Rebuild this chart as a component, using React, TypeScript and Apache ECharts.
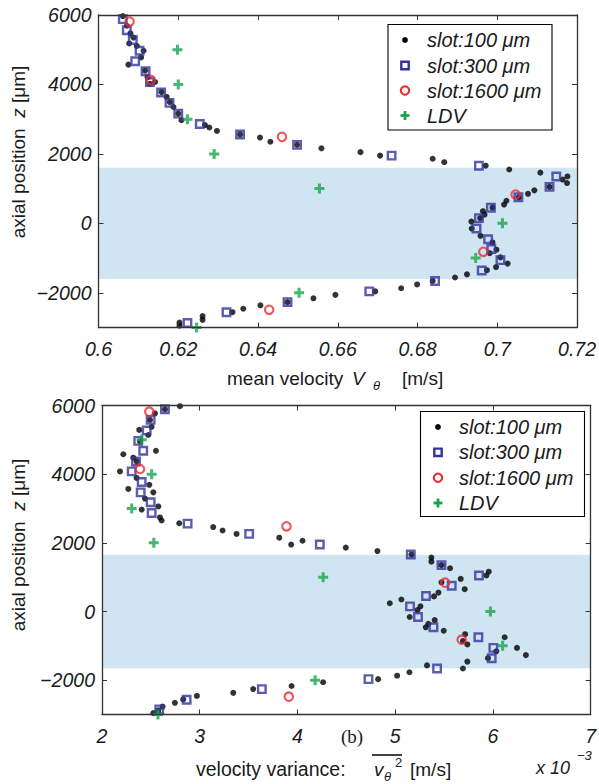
import React, { useEffect, useRef } from 'react';
import * as echarts from 'echarts';

// ---------- data ----------
const zTicks = [-2000, 0, 2000, 4000, 6000];
const meanTicks = [0.6, 0.62, 0.64, 0.66, 0.68, 0.7, 0.72];
const varTicks = [2, 3, 4, 5, 6, 7];
const legendNames = ['slot:100 μm', 'slot:300 μm', 'slot:1600 μm', 'LDV'];
const bandTop = [-1600, 1600];
const bandBottom = [-1650, 1650];

// top panel: mean velocity V_theta [m/s] vs z [μm]
const meanSlot100 = [
  [0.6061, 5970], [0.6071, 5690], [0.608, 5470], [0.6088, 5350], [0.6077, 5180], [0.6096, 5110],
  [0.6113, 4970], [0.6107, 4780], [0.6075, 4570], [0.6117, 4400], [0.6123, 4210], [0.6129, 4020],
  [0.6142, 4070], [0.6158, 3780], [0.6171, 3640], [0.6179, 3490], [0.6188, 3350], [0.62, 3160],
  [0.6208, 2970], [0.6267, 2830], [0.6278, 2760], [0.6297, 2660], [0.6355, 2560], [0.6405, 2470],
  [0.6431, 2350], [0.6498, 2260], [0.6559, 2160], [0.6657, 2050], [0.6706, 1950], [0.6838, 1860],
  [0.6867, 1760], [0.6971, 1660], [0.703, 1550], [0.7108, 1460], [0.7176, 1350], [0.7164, 1260],
  [0.7175, 1160], [0.7131, 1050], [0.7093, 950], [0.7077, 850], [0.7054, 750], [0.7023, 650],
  [0.7017, 540], [0.6988, 450], [0.6964, 350], [0.6968, 250], [0.6957, 150], [0.6935, 50],
  [0.6936, -150], [0.6958, -360], [0.6988, -550], [0.6998, -760], [0.6981, -860], [0.7008, -980],
  [0.7026, -1160], [0.6997, -1260], [0.6974, -1350], [0.6924, -1470], [0.6894, -1560], [0.6838, -1660],
  [0.6799, -1760], [0.6759, -1870], [0.6694, -1960], [0.6594, -2060], [0.6539, -2160], [0.6474, -2270],
  [0.6406, -2360], [0.6363, -2460], [0.6336, -2560], [0.6261, -2670], [0.6261, -2780], [0.6203, -2860],
  [0.6203, -2950],
];
const meanSlot300 = [
  [0.6061, 5880], [0.6071, 5560], [0.6086, 5280], [0.6103, 4970], [0.6092, 4670], [0.6118, 4380],
  [0.6129, 4070], [0.6157, 3770], [0.6178, 3470], [0.62, 3160], [0.6254, 2860], [0.6355, 2560],
  [0.6498, 2260], [0.6735, 1950], [0.6954, 1660], [0.7148, 1350], [0.7131, 1050], [0.7053, 750],
  [0.6984, 450], [0.6954, 150], [0.6948, -150], [0.6977, -460], [0.6985, -740], [0.7008, -1060],
  [0.6961, -1360], [0.6844, -1660], [0.6679, -1960], [0.6474, -2270], [0.6321, -2560], [0.6223, -2870],
];
const meanSlot1600 = [
  [0.6078, 5810], [0.6131, 4130], [0.646, 2490], [0.7046, 830], [0.6965, -820], [0.6428, -2490],
];
const meanLDV = [
  [0.6198, 5000], [0.62, 4000], [0.6223, 3000], [0.629, 2000], [0.6554, 1000], [0.7013, 0],
  [0.6946, -1000], [0.6503, -2000], [0.6246, -3000],
];

// bottom panel: velocity variance (x 10^-3) vs z [μm]
const varSlot100 = [
  [2.797, 5980], [2.644, 5890], [2.542, 5770], [2.491, 5580], [2.508, 5380], [2.381, 5290],
  [2.473, 5140], [2.389, 4950], [2.552, 4680], [2.218, 4580], [2.32, 4480], [2.354, 4370],
  [2.184, 4080], [2.354, 3890], [2.484, 3690], [2.269, 3570], [2.525, 3470], [2.44, 3290],
  [2.576, 3060], [2.406, 2970], [2.593, 2740], [2.61, 2650], [2.79, 2570], [3.138, 2460],
  [3.234, 2360], [3.377, 2260], [3.814, 2150], [4.052, 2060], [3.936, 1950], [4.495, 1860],
  [4.819, 1760], [5.167, 1660], [5.371, 1570], [5.371, 1450], [5.474, 1350], [5.562, 1260],
  [5.958, 1160], [5.934, 1050], [5.671, 950], [5.474, 850], [5.712, 650], [5.443, 550],
  [5.398, 440], [5.064, 350], [4.945, 240], [5.259, 150], [5.228, 40], [5.149, -160],
  [5.405, -250], [5.34, -360], [5.313, -460], [5.497, -560], [5.716, -660], [6.121, -750],
  [5.694, -860], [5.739, -960], [6.247, -1060], [6.035, -1160], [6.338, -1270], [5.95, -1360],
  [5.739, -1460], [5.326, -1570], [5.694, -1660], [5.146, -1770], [5.02, -1870], [4.826, -1970],
  [4.263, -2060], [3.94, -2170], [3.547, -2260], [3.343, -2370], [2.971, -2460], [2.831, -2560],
  [2.746, -2660], [2.62, -2770], [2.576, -2880], [2.525, -2960],
];
const varSlot300 = [
  [2.644, 5890], [2.498, 5580], [2.457, 5270], [2.371, 4970], [2.422, 4680], [2.348, 4370],
  [2.304, 4080], [2.406, 3770], [2.396, 3470], [2.498, 3180], [2.508, 2870], [2.876, 2560],
  [3.506, 2260], [4.229, 1950], [5.16, 1660], [5.474, 1350], [5.858, 1050], [5.579, 750],
  [5.316, 450], [5.152, 150], [5.234, -160], [5.392, -460], [5.852, -750], [6.005, -1060],
  [5.988, -1360], [5.429, -1660], [4.727, -1970], [3.636, -2260], [2.866, -2570], [2.586, -2850],
];
const varSlot1600 = [
  [2.484, 5820], [2.389, 4150], [3.888, 2480], [5.512, 840], [5.681, -820], [3.912, -2480],
];
const varLDV = [
  [2.406, 5000], [2.508, 4000], [2.304, 3000], [2.53, 2000], [4.263, 1000], [5.975, 0],
  [6.1, -1000], [4.181, -2000], [2.573, -3000],
];

// ---------- styling ----------
const SANS = "'Liberation Sans', Arial, Helvetica, sans-serif";
const SERIF = "'Liberation Serif', 'Times New Roman', serif";
const TXT = '#1a1a1a';
const AXIS = '#333333';
const BLUE = '#34359b';
const RED = '#ee2a2e';
const GREEN = '#18a54a';
const BAND = '#cfe5f2';
const PLUS = 'path://M3.5,0H6.5V3.5H10V6.5H6.5V10H3.5V6.5H0V3.5H3.5Z';
const TICK_FS = 19.5;

const minusFmt = (v: number) => String(v).replace('-', '\u2212');

function mainX(gridIndex: number, min: number, max: number, ticks: number[]) {
  return {
    type: 'value', gridIndex, min, max, position: 'bottom', z: 5,
    axisLine: { show: true, onZero: false, lineStyle: { color: AXIS, width: 1.3 } },
    axisTick: { show: true, inside: true, length: 5, customValues: ticks, lineStyle: { color: AXIS } },
    axisLabel: {
      show: true, customValues: ticks, margin: 11, color: TXT, fontSize: TICK_FS,
      fontStyle: 'italic', fontFamily: SANS, formatter: minusFmt,
    },
    splitLine: { show: false },
  };
}
function topX(gridIndex: number, min: number, max: number, ticks: number[]) {
  return {
    type: 'value', gridIndex, min, max, position: 'top', z: 5,
    axisLine: { show: true, onZero: false, lineStyle: { color: AXIS, width: 1.3 } },
    axisTick: { show: true, inside: true, length: 5, customValues: ticks, lineStyle: { color: AXIS } },
    axisLabel: { show: false },
    splitLine: { show: false },
  };
}
function leftY(gridIndex: number) {
  return {
    type: 'value', gridIndex, min: -3000, max: 6000, position: 'left', z: 5,
    axisLine: { show: true, onZero: false, lineStyle: { color: AXIS, width: 1.3 } },
    axisTick: { show: true, inside: true, length: 5, customValues: zTicks, lineStyle: { color: AXIS } },
    axisLabel: {
      show: true, customValues: zTicks, margin: 7, color: TXT, fontSize: TICK_FS,
      fontStyle: 'italic', fontFamily: SANS, formatter: minusFmt,
    },
    splitLine: { show: false },
  };
}
function rightY(gridIndex: number) {
  return {
    type: 'value', gridIndex, min: -3000, max: 6000, position: 'right', z: 5,
    axisLine: { show: true, onZero: false, lineStyle: { color: AXIS, width: 1.3 } },
    axisTick: { show: true, inside: true, length: 5, customValues: zTicks, lineStyle: { color: AXIS } },
    axisLabel: { show: false },
    splitLine: { show: false },
  };
}

function panelSeries(axisIdx: number, s100: number[][], s300: number[][], s1600: number[][], ldv: number[][], band: number[]) {
  return [
    {
      name: legendNames[0], type: 'scatter', xAxisIndex: axisIdx, yAxisIndex: axisIdx, data: s100,
      symbol: 'circle', symbolSize: 6, itemStyle: { color: '#000' }, z: 2, silent: true,
      markArea: {
        silent: true, z: 1, itemStyle: { color: BAND },
        data: [[{ yAxis: band[0] }, { yAxis: band[1] }]],
      },
    },
    {
      name: legendNames[1], type: 'scatter', xAxisIndex: axisIdx, yAxisIndex: axisIdx, data: s300,
      symbol: 'rect', symbolSize: 7.5, z: 3, silent: true,
      itemStyle: { color: 'rgba(0,0,0,0)', borderColor: BLUE, borderWidth: 2.4 },
    },
    {
      name: legendNames[2], type: 'scatter', xAxisIndex: axisIdx, yAxisIndex: axisIdx, data: s1600,
      symbol: 'circle', symbolSize: 8.5, z: 4, silent: true,
      itemStyle: { color: 'rgba(0,0,0,0)', borderColor: RED, borderWidth: 2.1 },
    },
    {
      name: legendNames[3], type: 'scatter', xAxisIndex: axisIdx, yAxisIndex: axisIdx, data: ldv,
      symbol: PLUS, symbolSize: 10, z: 4, silent: true, itemStyle: { color: GREEN },
    },
  ];
}

function legendGraphic(bx: number, by: number, bw: number, bh: number, mx: number, tx: number, rows: number[]) {
  const els: any[] = [
    { type: 'rect', shape: { x: bx, y: by, width: bw, height: bh }, style: { fill: '#fff', stroke: '#000', lineWidth: 1.1 }, z: 10 },
    { type: 'circle', shape: { cx: mx, cy: rows[0], r: 2.9 }, style: { fill: '#000' }, z: 11 },
    { type: 'rect', shape: { x: mx - 3.7, y: rows[1] - 3.7, width: 7.4, height: 7.4 }, style: { fill: 'none', stroke: BLUE, lineWidth: 2.4 }, z: 11 },
    { type: 'circle', shape: { cx: mx, cy: rows[2], r: 4.2 }, style: { fill: 'none', stroke: RED, lineWidth: 2.1 }, z: 11 },
    { type: 'rect', shape: { x: mx - 4.5, y: rows[3] - 1.4, width: 9, height: 2.8 }, style: { fill: GREEN }, z: 11 },
    { type: 'rect', shape: { x: mx - 1.4, y: rows[3] - 4.5, width: 2.8, height: 9 }, style: { fill: GREEN }, z: 11 },
  ];
  legendNames.forEach((n, i) => {
    els.push({
      type: 'text', x: tx, y: rows[i], z: 11,
      style: {
        text: n, fill: TXT, fontSize: 20, fontStyle: 'italic', fontFamily: SANS,
        align: 'left', verticalAlign: 'middle', textAlign: 'left', textVerticalAlign: 'middle',
      },
    });
  });
  return els;
}

function txt(x: number, y: number, text: string, size: number, italic: boolean, align = 'left', family = SANS) {
  return {
    type: 'text', x, y, z: 11,
    style: {
      text, fill: TXT, fontSize: size, fontStyle: italic ? 'italic' : 'normal', fontFamily: family,
      align, verticalAlign: 'middle', textAlign: align, textVerticalAlign: 'middle',
    },
  };
}

function yTitle(cx: number, cy: number) {
  return {
    type: 'text', x: cx, y: cy, rotation: Math.PI / 2, z: 11,
    style: {
      text: '{n|axial position  }{i|z}{n| [μm]}',
      rich: {
        n: { fontSize: 19, fontFamily: SANS, fill: TXT },
        i: { fontSize: 19, fontFamily: SANS, fontStyle: 'italic', fill: TXT },
      },
      align: 'center', verticalAlign: 'middle', textAlign: 'center', textVerticalAlign: 'middle',
    },
  };
}

export default function App() {
  const ref = useRef<HTMLDivElement>(null);
  useEffect(() => {
    if (!ref.current) return;
    const chart = echarts.init(ref.current, null, { renderer: 'svg' });
    const option: any = {
      animation: false,
      backgroundColor: '#ffffff',
      grid: [
        { left: 98.5, top: 15, width: 479.5, height: 312.5, containLabel: false },
        { left: 102, top: 405.5, width: 489, height: 309, containLabel: false },
      ],
      xAxis: [
        mainX(0, 0.6, 0.72, meanTicks),
        topX(0, 0.6, 0.72, meanTicks),
        mainX(1, 2, 7, varTicks),
        topX(1, 2, 7, varTicks),
      ],
      yAxis: [leftY(0), rightY(0), leftY(1), rightY(1)],
      series: [
        ...panelSeries(0, meanSlot100, meanSlot300, meanSlot1600, meanLDV, bandTop),
        ...panelSeries(2, varSlot100, varSlot300, varSlot1600, varLDV, bandBottom),
      ],
      graphic: [
        ...legendGraphic(388, 24.5, 164, 105.5, 405, 427, [40, 65.5, 90.5, 115.5]),
        ...legendGraphic(420.5, 411.5, 164, 105, 438, 459, [427, 452.3, 477.7, 503]),
        yTitle(18, 152),
        yTitle(18, 545),
        // top x title
        txt(227, 378, 'mean velocity', 19, false),
        txt(352, 378, 'V', 19, true),
        txt(373, 385, 'θ', 13, true),
        txt(402, 378, '[m/s]', 19, false),
        // bottom x title
        txt(196, 769, 'velocity variance:', 19.5, false),
        txt(374, 769, 'v', 19, true),
        txt(384, 776, 'θ', 13, true),
        txt(395, 762, '2', 13, false),
        txt(410, 769, '[m/s]', 19, false),
        { type: 'line', shape: { x1: 372, y1: 755, x2: 402, y2: 755 }, style: { stroke: '#111', lineWidth: 1.6 }, z: 11 },
        // (b) label
        txt(341, 736, '(b)', 19, false, 'left', SERIF),
        // x 10^-3
        txt(536, 768, 'x 10', 18, true),
        txt(577, 755, '\u22123', 13, true),
      ],
    };
    chart.setOption(option);
    return () => chart.dispose();
  }, []);
  return (
    <div
      ref={ref}
      style={{ position: 'absolute', left: 0, top: 0, width: 599, height: 784, background: '#fff' }}
    />
  );
}
